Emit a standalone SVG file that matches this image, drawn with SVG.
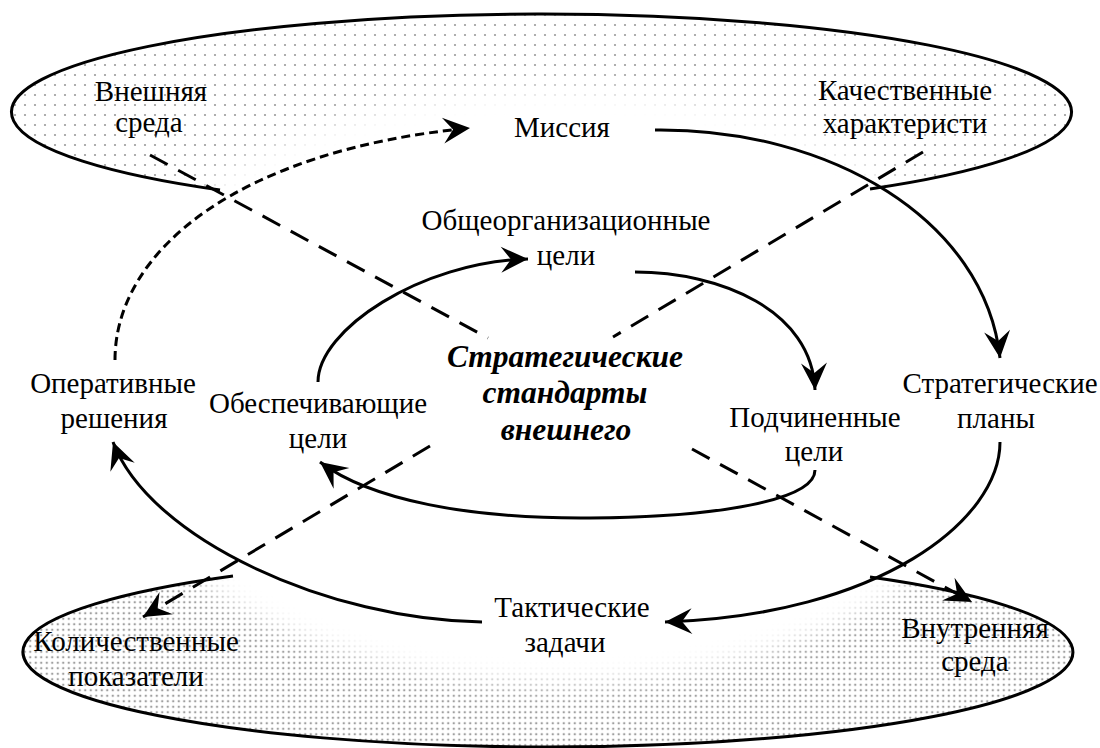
<svg xmlns="http://www.w3.org/2000/svg" width="1100" height="748" viewBox="0 0 1100 748">
  <defs>
    <style>
      .lbl { font-family: "Liberation Serif", "Times New Roman", serif; font-size: 29px; fill: #000; text-anchor: middle; }
      .core { font-family: "Liberation Serif", "Times New Roman", serif; font-size: 31.5px; font-weight: bold; font-style: italic; fill: #000; text-anchor: middle; }
      .rim { fill: none; stroke: #000; stroke-width: 3; }
      .flow { fill: none; stroke: #000; stroke-width: 3; }
      .feedback { fill: none; stroke: #000; stroke-width: 3; stroke-dasharray: 9 5; }
      .link { fill: none; stroke: #000; stroke-width: 3; stroke-dasharray: 20 12; }
    </style>
    <pattern id="dotsSparse" width="10" height="10" patternUnits="userSpaceOnUse">
      <rect width="10" height="10" fill="#fff"/>
      <circle cx="5" cy="5" r="1.1" fill="#9a9a9a"/>
    </pattern>
    <pattern id="dotsDense" width="5.5" height="5.5" patternUnits="userSpaceOnUse">
      <rect width="5.5" height="5.5" fill="#fff"/>
      <circle cx="2.75" cy="2.75" r="1.2" fill="#a0a0a0"/>
    </pattern>
    <filter id="soft" x="-20%" y="-20%" width="140%" height="140%">
      <feGaussianBlur stdDeviation="11"/>
    </filter>
    <marker id="arr" viewBox="-29 -15 31 30" refX="0" refY="0" markerWidth="31" markerHeight="30" markerUnits="userSpaceOnUse" orient="auto">
      <path d="M0,0 L-27,-13 L-17,0 L-27,13 Z" fill="#000"/>
    </marker>
  </defs>

  <rect width="1100" height="748" fill="#fff"/>

  <!-- environment zones: dotted shading, cleared in the middle -->
  <g id="zones">
    <ellipse cx="542" cy="112" rx="530" ry="98" fill="url(#dotsSparse)"/>
    <ellipse cx="548" cy="652" rx="525" ry="95" fill="url(#dotsDense)"/>
    <ellipse cx="555" cy="386" rx="472" ry="298" fill="#fff" filter="url(#soft)"/>
    <path class="rim" d="M220,190 A530,98 0 1 1 870,189"/>
    <path class="rim" d="M233,576 A525,95 0 1 0 870,577"/>
  </g>

  <!-- connectors -->
  <g id="connectors">
    <path class="flow" d="M655,130 C830,128 985,220 1000,358" marker-end="url(#arr)"/>
    <path class="flow" d="M1000,442 C1000,520 880,615 665,622" marker-end="url(#arr)"/>
    <path class="flow" d="M482,622 C330,620 150,540 113,442" marker-end="url(#arr)"/>
    <path class="feedback" d="M115,360 C115,250 240,150 470,128" marker-end="url(#arr)"/>
    <path class="flow" d="M318,382 C318,330 420,262 528,259" marker-end="url(#arr)"/>
    <path class="flow" d="M635,272 C720,272 812,310 815,390" marker-end="url(#arr)"/>
    <path class="flow" d="M815,470 C815,500 720,517 590,518 C470,519 370,500 320,462" marker-end="url(#arr)"/>
    <path class="link" d="M150,155 L488,338"/>
    <path class="link" d="M692,449 L972,602" marker-end="url(#arr)"/>
    <path class="link" d="M923,152 L613,337"/>
    <path class="link" d="M430,446 L143,617" marker-end="url(#arr)"/>
  </g>

  <g id="external">
    <text class="lbl" x="151" y="101">Внешняя</text>
    <text class="lbl" x="149" y="132">среда</text>
  </g>
  <g id="mission">
    <text class="lbl" x="562" y="137">Миссия</text>
  </g>
  <g id="qualitative">
    <text class="lbl" x="905" y="100">Качественные</text>
    <text class="lbl" x="905" y="133">характеристи</text>
  </g>
  <g id="general-goals">
    <text class="lbl" x="566" y="230">Общеорганизационные</text>
    <text class="lbl" x="566" y="265">цели</text>
  </g>
  <g id="standards">
    <text class="core" x="565" y="367">Стратегические</text>
    <text class="core" x="565" y="403">стандарты</text>
    <text class="core" x="566" y="440">внешнего</text>
  </g>
  <g id="operational">
    <text class="lbl" x="113" y="393">Оперативные</text>
    <text class="lbl" x="114" y="428">решения</text>
  </g>
  <g id="supporting-goals">
    <text class="lbl" x="318" y="413">Обеспечивающие</text>
    <text class="lbl" x="318" y="448">цели</text>
  </g>
  <g id="sub-goals">
    <text class="lbl" x="815" y="427">Подчиненные</text>
    <text class="lbl" x="814" y="461">цели</text>
  </g>
  <g id="strategic-plans">
    <text class="lbl" x="1000" y="393">Стратегические</text>
    <text class="lbl" x="996" y="428">планы</text>
  </g>
  <g id="tactical">
    <text class="lbl" x="572" y="617">Тактические</text>
    <text class="lbl" x="565" y="652">задачи</text>
  </g>
  <g id="quantitative">
    <text class="lbl" x="136" y="651">Количественные</text>
    <text class="lbl" x="136" y="686">показатели</text>
  </g>
  <g id="internal">
    <text class="lbl" x="975" y="638">Внутренняя</text>
    <text class="lbl" x="975" y="671">среда</text>
  </g>
</svg>
